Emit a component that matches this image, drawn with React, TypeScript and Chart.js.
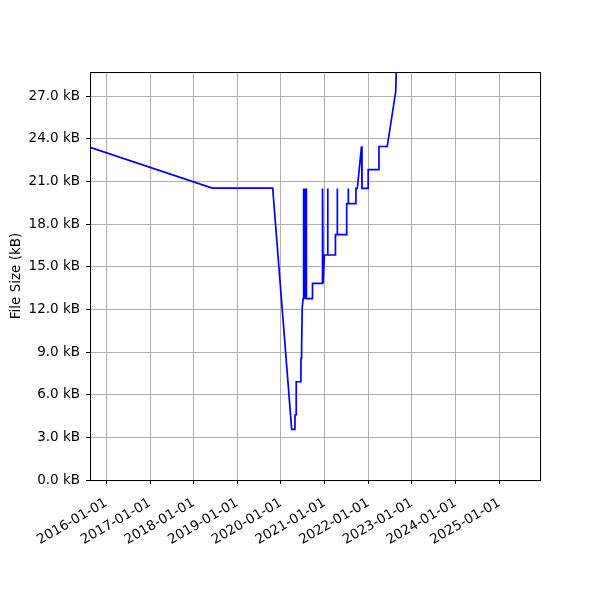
import React, { useEffect, useRef } from "react";
import { Chart, registerables } from "chart.js";

Chart.register(...registerables);

const dates: string[] = [
  "2015-08-18", "2018-06-06", "2019-10-24", "2020-03-31", "2020-04-27",
  "2020-04-28", "2020-05-07", "2020-05-08", "2020-06-16", "2020-06-17",
  "2020-06-22", "2020-06-27", "2020-07-05", "2020-07-08", "2020-07-10",
  "2020-07-14", "2020-07-16", "2020-07-22", "2020-07-24", "2020-07-30",
  "2020-08-01", "2020-09-20", "2020-09-21", "2020-12-13", "2020-12-14",
  "2020-12-19", "2020-12-29", "2021-01-25", "2021-01-26", "2021-01-28",
  "2021-03-31", "2021-04-01", "2021-04-15", "2021-04-16", "2021-04-18",
  "2021-07-03", "2021-07-04", "2021-07-16", "2021-07-17", "2021-07-19",
  "2021-09-19", "2021-09-20", "2021-10-01", "2021-11-05", "2021-11-09",
  "2021-12-30", "2021-12-31", "2022-03-30", "2022-03-31", "2022-06-08",
  "2022-08-18", "2022-08-27",
];

const sizesKB: number[] = [
  23.4, 20.53, 20.53, 3.56, 3.56,
  4.57, 4.6, 6.91, 6.91, 8.56,
  9.3, 12.1, 12.75, 20.5, 12.75,
  20.5, 12.75, 20.5, 12.75, 20.5,
  12.75, 12.75, 13.83, 13.83, 20.5,
  13.83, 15.82, 15.82, 20.5, 15.82,
  15.82, 17.26, 17.26, 20.5, 17.26,
  17.26, 19.43, 19.43, 20.5, 19.43,
  19.43, 20.5, 20.5, 23.47, 20.5,
  20.5, 21.83, 21.83, 23.45, 23.45,
  27.3, 30.0,
];

const tickYears: number[] = [2016, 2017, 2018, 2019, 2020, 2021, 2022, 2023, 2024, 2025];
const yTicks: number[] = [0, 3, 6, 9, 12, 15, 18, 21, 24, 27];
const xMinDate = "2015-08-18";
const xMaxDate = "2025-12-07";
const yMax = 28.69;
const yTitle = "File Size (kB)";

const FONT = "'DejaVu Sans', sans-serif";

const frame = {
  id: "frame",
  afterDraw(chart: any) {
    const { ctx, chartArea } = chart;
    ctx.save();
    ctx.strokeStyle = "#000";
    ctx.lineWidth = 1;
    ctx.strokeRect(
      Math.round(chartArea.left) + 0.5,
      Math.round(chartArea.top) + 0.5,
      Math.round(chartArea.right - chartArea.left),
      Math.round(chartArea.bottom - chartArea.top)
    );
    ctx.restore();
  },
};

export default function App() {
  const ref = useRef<HTMLCanvasElement | null>(null);

  useEffect(() => {
    if (!ref.current) return;
    const points = dates.map((d, i) => ({ x: Date.parse(d), y: sizesKB[i] }));
    const chart = new Chart(ref.current, {
      type: "line",
      data: {
        datasets: [
          {
            data: points,
            borderColor: "#0000ff",
            borderWidth: 1.7,
            pointRadius: 0,
            fill: false,
            tension: 0,
          },
        ],
      },
      options: {
        animation: false,
        responsive: false,
        layout: { padding: { top: 72, right: 60, left: 0, bottom: 0 } },
        plugins: { legend: { display: false }, tooltip: { enabled: false } },
        scales: {
          x: {
            type: "linear",
            min: Date.parse(xMinDate),
            max: Date.parse(xMaxDate),
            afterBuildTicks: (scale: any) => {
              scale.ticks = tickYears.map((y) => ({ value: Date.UTC(y, 0, 1) }));
            },
            afterFit: (scale: any) => {
              scale.height = 120;
            },
            border: { display: false },
            grid: {
              color: "#b0b0b0",
              lineWidth: 1,
              tickColor: "#000",
              tickLength: 4,
            },
            ticks: {
              autoSkip: false,
              minRotation: 30,
              maxRotation: 30,
              padding: 11,
              color: "#000",
              font: { family: FONT, size: 13.5 },
              callback: (v: any) => new Date(Number(v)).toISOString().slice(0, 10),
            },
          },
          y: {
            type: "linear",
            min: 0,
            max: yMax,
            afterBuildTicks: (scale: any) => {
              scale.ticks = yTicks.map((v) => ({ value: v }));
            },
            afterFit: (scale: any) => {
              scale.width = 90;
            },
            border: { display: false },
            grid: {
              color: "#b0b0b0",
              lineWidth: 1,
              tickColor: "#000",
              tickLength: 4,
            },
            ticks: {
              padding: 6,
              color: "#000",
              font: { family: FONT, size: 13.5 },
              callback: (v: any) => Number(v).toFixed(1) + " kB",
            },
            title: {
              display: true,
              text: yTitle,
              color: "#000",
              font: { family: FONT, size: 13.5 },
              padding: { top: 8, bottom: 4 },
            },
          },
        },
      },
      plugins: [frame],
    });
    return () => chart.destroy();
  }, []);

  return (
    <div style={{ position: "absolute", left: 0, top: 0, width: 600, height: 600, background: "#fff" }}>
      <canvas ref={ref} width={600} height={600} />
    </div>
  );
}
